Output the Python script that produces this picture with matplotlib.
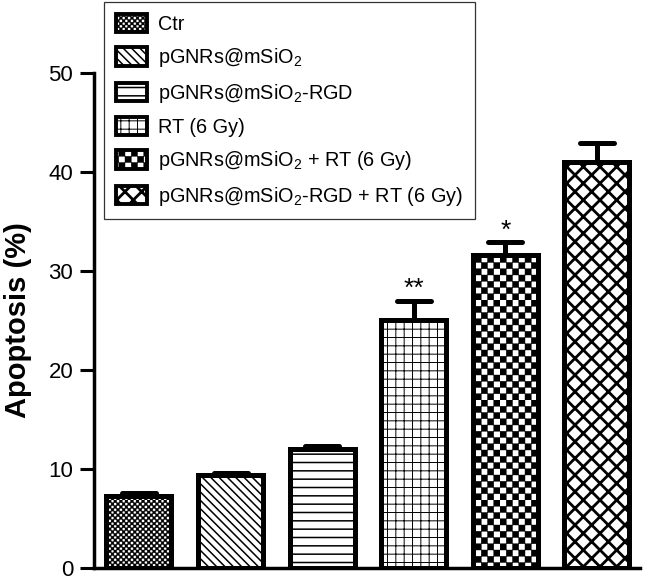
import numpy as np
import matplotlib
matplotlib.use("Agg")
import matplotlib.pyplot as plt
import matplotlib.hatch as mhatch
from matplotlib.path import Path
from matplotlib.markers import MarkerStyle

# ---------------- data ----------------
groups = ["Ctr",
          r"pGNRs@mSiO$_2$",
          r"pGNRs@mSiO$_2$-RGD",
          "RT (6 Gy)",
          r"pGNRs@mSiO$_2$ + RT (6 Gy)",
          r"pGNRs@mSiO$_2$-RGD + RT (6 Gy)"]
apoptosis = [7.3, 9.4, 12.0, 25.1, 31.6, 41.0]
sem = [0.3, 0.2, 0.3, 1.9, 1.3, 1.9]
marks = ["", "", "", "**", "*", ""]

# hatch per group and the width of its hatch lines
patterns = ["OO", "\\" * 4, "--", "++", "O", "xx"]
hatch_lw = [0.3, 1.1, 1.1, 0.7, 0.3, 2.0]


# checkerboard hatch ('O' coarse, 'OO' fine) - replaces the big circles
class CheckerHatch(mhatch.HatchPatternBase):
    def __init__(self, hatch, density):
        k = hatch.count("O")
        self.n = 0 if k == 0 else (16 if k == 1 else 36)
        self.num_vertices = 5 * (self.n * self.n // 2)

    def set_vertices_and_codes(self, vertices, codes):
        s = 1.0 / self.n
        cells = [(i, j) for i in range(self.n) for j in range(self.n)
                 if (i + j) % 2 == 0]
        sq = np.array([[0, 0], [1, 0], [1, 1], [0, 1], [0, 0]]) * s
        vertices[:] = np.concatenate([sq + [i * s, j * s] for i, j in cells])
        codes[:] = np.tile([Path.MOVETO, Path.LINETO, Path.LINETO,
                            Path.LINETO, Path.CLOSEPOLY], len(cells))


mhatch._hatch_types = [t for t in mhatch._hatch_types
                       if t is not mhatch.LargeCircles] + [CheckerHatch]

plt.rcParams["font.family"] = ["Liberation Sans", "DejaVu Sans"]
plt.rcParams["mathtext.fontset"] = "custom"
plt.rcParams["mathtext.rm"] = "Liberation Sans"
plt.rcParams["mathtext.default"] = "regular"

fig = plt.figure(figsize=(6.46, 5.76), dpi=100)
ax = fig.add_axes([94 / 646, 8 / 576, 546 / 646, 495 / 576])

x = np.arange(len(groups))
bars = []
for i in range(len(groups)):
    b = ax.bar(x[i], apoptosis[i], width=0.71, color="white",
               edgecolor="black", linewidth=3.6, hatch=patterns[i],
               zorder=2)[0]
    if hasattr(b, "set_hatch_linewidth"):
        b.set_hatch_linewidth(hatch_lw[i])
    bars.append(b)

eb = ax.errorbar(x, apoptosis, yerr=[np.zeros(len(x)), sem], fmt="none",
                 ecolor="black", elinewidth=3.6, capsize=12, capthick=3.6,
                 zorder=3)
for cl in eb[1]:
    cl.set_marker(MarkerStyle("_", capstyle="round"))

for i in range(len(groups)):
    if marks[i]:
        ax.text(x[i], apoptosis[i] + sem[i] + 1.2, marks[i],
                ha="center", va="center", fontsize=19)

ax.set_xlim(-0.49, 5.47)
ax.set_ylim(0, 50)
ax.set_yticks([0, 10, 20, 30, 40, 50])
ax.set_xticks([])
ax.tick_params(axis="y", length=10, width=2.2, pad=5, labelsize=16)
for side in ["top", "right"]:
    ax.spines[side].set_visible(False)
for side in ["left", "bottom"]:
    ax.spines[side].set_linewidth(2.5)
ax.set_ylabel("Apoptosis (%)", fontsize=21, fontweight="bold", labelpad=12)

leg = fig.legend(bars, groups, loc="upper left",
                 bbox_to_anchor=(104 / 646, 1 - 2 / 576),
                 bbox_transform=fig.transFigure, fancybox=False,
                 edgecolor="black", fontsize=14.3, handlelength=1.56,
                 handleheight=1.06, labelspacing=0.62, handletextpad=0.55,
                 borderpad=0.6, borderaxespad=0)
leg.get_frame().set_linewidth(0.9)
for p, lw in zip(leg.get_patches(), hatch_lw):
    p.set_linewidth(2.8)
    if hasattr(p, "set_hatch_linewidth"):
        p.set_hatch_linewidth(lw)

fig.savefig("out.png", dpi=100)
